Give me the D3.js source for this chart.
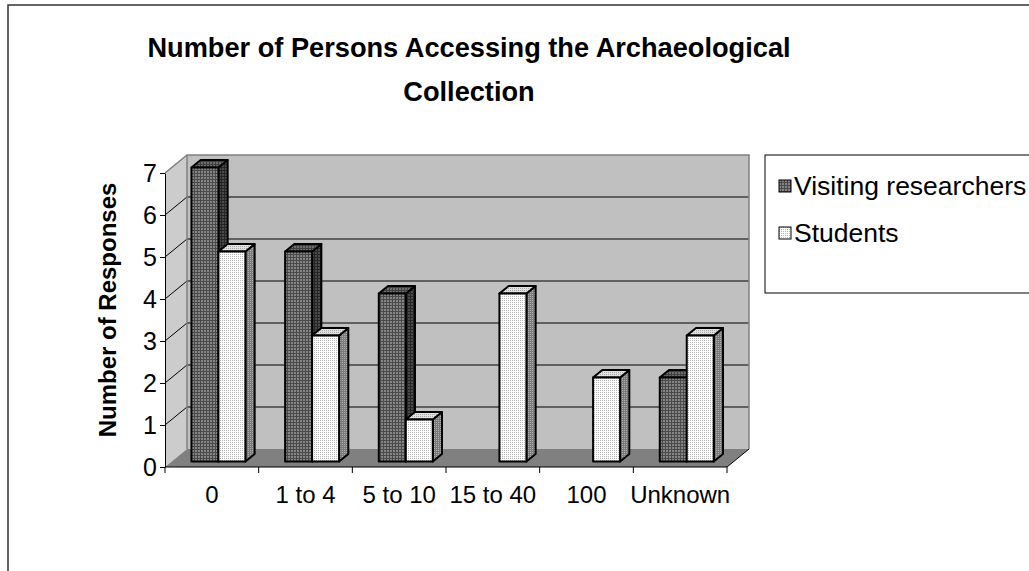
<!DOCTYPE html>
<html>
<head>
<meta charset="utf-8">
<script src="https://cdn.jsdelivr.net/npm/d3@7"></script>
<style>
  body { margin: 0; background: #fff; }
  text { font-family: "Liberation Sans", Arial, sans-serif; }
</style>
</head>
<body>
<div id="chart"></div>
<script>
const categories = ["0", "1 to 4", "5 to 10", "15 to 40", "100", "Unknown"]
const visitingResearchers = [7, 5, 4, 0, 0, 2]
const students = [5, 3, 1, 4, 2, 3]
const seriesNames = ["Visiting researchers", "Students"]
const yTicks = [0, 1, 2, 3, 4, 5, 6, 7]
const titleLines = ["Number of Persons Accessing the Archaeological", "Collection"]

const W = 1029, H = 571
const DX = 22, DY = 18          // depth of the 3d box
const T0 = 0.3, T1 = 0.72       // depth of the bars inside the box

const svg = d3.select("#chart").append("svg")
    .attr("width", W)
    .attr("height", H)

// patterns for the bars
const defs = svg.append("defs")
function pattern(id, base, dot, size, dotSize) {
    const p = defs.append("pattern")
        .attr("id", id)
        .attr("width", size).attr("height", size)
        .attr("patternUnits", "userSpaceOnUse")
    p.append("rect").attr("width", size).attr("height", size).attr("fill", base)
    p.append("rect").attr("width", dotSize).attr("height", dotSize).attr("fill", dot)
}
pattern("darkFront", "#4a4a4a", "#858585", 3, 2)
pattern("darkSide", "#262626", "#4a4a4a", 3, 2)
pattern("darkTop", "#404040", "#6e6e6e", 3, 2)
pattern("lightFront", "#ffffff", "#b8b8b8", 2, 1)
pattern("lightSide", "#7a7a7a", "#b0b0b0", 2, 1)
pattern("lightTop", "#e2e2e2", "#a8a8a8", 2, 1)

const fills = [
    {front: "url(#darkFront)", side: "url(#darkSide)", top: "url(#darkTop)"},
    {front: "url(#lightFront)", side: "url(#lightSide)", top: "url(#lightTop)"}
]

// chart border
svg.append("rect")
    .attr("x", 8).attr("y", 5)
    .attr("width", 1100).attr("height", 700)
    .attr("fill", "none")
    .attr("stroke", "#333")
    .attr("stroke-width", 1.5)

const x = d3.scaleBand()
    .domain(categories)
    .range([165, 727])

const y = d3.scaleLinear()
    .domain([0, 7])
    .range([467, 173])

const proj = (xf, v, t) => [xf + t * DX, y(v) - t * DY]
const poly = pts => pts.map(p => p.join(",")).join(" ")

const x0 = x.range()[0], x1 = x.range()[1]

// left wall
svg.append("polygon")
    .attr("points", poly([proj(x0, 0, 0), proj(x0, 7, 0), proj(x0, 7, 1), proj(x0, 0, 1)]))
    .attr("fill", "#cccccc")
// back wall
svg.append("polygon")
    .attr("points", poly([proj(x0, 0, 1), proj(x0, 7, 1), proj(x1, 7, 1), proj(x1, 0, 1)]))
    .attr("fill", "#c0c0c0")
// floor
svg.append("polygon")
    .attr("points", poly([proj(x0, 0, 0), proj(x0, 0, 1), proj(x1, 0, 1), proj(x1, 0, 0)]))
    .attr("fill", "#808080")

// gridlines
const grid = svg.append("g")
grid.selectAll("polyline")
    .data(yTicks.filter(v => v > 0 && v < 7))
    .join("polyline")
    .attr("points", v => poly([proj(x0, v, 0), proj(x0, v, 1), proj(x1, v, 1)]))
    .attr("fill", "none")
    .attr("stroke", "#000")
    .attr("stroke-width", 1)

// wall edges
svg.append("polyline")
    .attr("points", poly([proj(x0, 7, 0), proj(x0, 7, 1), proj(x1, 7, 1), proj(x1, 0, 1)]))
    .attr("fill", "none")
    .attr("stroke", "#808080")
    .attr("stroke-width", 1.5)
svg.append("line")
    .attr("x1", proj(x0, 7, 1)[0]).attr("y1", proj(x0, 7, 1)[1])
    .attr("x2", proj(x0, 0, 1)[0]).attr("y2", proj(x0, 0, 1)[1])
    .attr("stroke", "#808080")
    .attr("stroke-width", 1.5)

// floor front edge
svg.append("polyline")
    .attr("points", poly([proj(x0, 0, 0), proj(x1, 0, 0), proj(x1, 0, 1)]))
    .attr("fill", "none")
    .attr("stroke", "#000")
    .attr("stroke-width", 1)

// bars
const bw = x.bandwidth() * 0.288
const barData = []
categories.forEach((c, i) => {
    [visitingResearchers[i], students[i]].forEach((v, s) => {
        if (v > 0) barData.push({cat: c, s: s, v: v})
    })
})

const bars = svg.append("g").selectAll("g")
    .data(barData)
    .join("g")
    .attr("stroke", "#000")
    .attr("stroke-width", 2)
    .attr("stroke-linejoin", "round")

const bx = d => x(d.cat) + (x.bandwidth() - 2 * bw) / 2 + d.s * bw

bars.append("polygon")
    .attr("points", d => poly([proj(bx(d) + bw, 0, T0), proj(bx(d) + bw, d.v, T0), proj(bx(d) + bw, d.v, T1), proj(bx(d) + bw, 0, T1)]))
    .attr("fill", d => fills[d.s].side)
bars.append("polygon")
    .attr("points", d => poly([proj(bx(d), d.v, T0), proj(bx(d), d.v, T1), proj(bx(d) + bw, d.v, T1), proj(bx(d) + bw, d.v, T0)]))
    .attr("fill", d => fills[d.s].top)
bars.append("polygon")
    .attr("points", d => poly([proj(bx(d), 0, T0), proj(bx(d), d.v, T0), proj(bx(d) + bw, d.v, T0), proj(bx(d) + bw, 0, T0)]))
    .attr("fill", d => fills[d.s].front)

// y axis
const yAxis = svg.append("g")
    .attr("transform", `translate(${x0},0)`)
    .call(d3.axisLeft(y).tickValues(yTicks).tickFormat(d3.format("d"))
        .tickSize(5).tickPadding(3).tickSizeOuter(0))
yAxis.select(".domain").attr("stroke", "#000")
yAxis.selectAll("text")
    .attr("font-size", 25)
    .attr("fill", "#000")
    .style("font-family", '"Liberation Sans", Arial, sans-serif')

// x axis labels
const xAxis = svg.append("g")
    .attr("transform", `translate(0,${y(0)})`)
    .call(d3.axisBottom(x).tickSize(0).tickPadding(19))
xAxis.select(".domain").remove()
xAxis.selectAll("text")
    .attr("font-size", 24)
    .attr("fill", "#000")
    .style("font-family", '"Liberation Sans", Arial, sans-serif')

// x ticks at category boundaries
svg.append("g").selectAll("line")
    .data(categories.map(c => x(c) + x.bandwidth()).slice(0, -1).concat([x0, x1]))
    .join("line")
    .attr("x1", d => d).attr("x2", d => d)
    .attr("y1", y(0)).attr("y2", y(0) + 6)
    .attr("stroke", "#000")

// title
svg.append("g").selectAll("text")
    .data(titleLines)
    .join("text")
    .attr("x", 469)
    .attr("y", (d, i) => 57 + i * 44)
    .attr("text-anchor", "middle")
    .attr("font-size", 27.2)
    .attr("font-weight", "bold")
    .text(d => d)

// y axis title
svg.append("text")
    .attr("transform", "translate(116,310) rotate(-90)")
    .attr("text-anchor", "middle")
    .attr("font-size", 24)
    .attr("font-weight", "bold")
    .text("Number of Responses")

// legend
const legend = svg.append("g")
legend.append("rect")
    .attr("x", 765).attr("y", 155)
    .attr("width", 400).attr("height", 138)
    .attr("fill", "#fff")
    .attr("stroke", "#000")
    .attr("stroke-width", 1)

const items = legend.selectAll("g.item")
    .data(seriesNames)
    .join("g")
    .attr("class", "item")
    .attr("transform", (d, i) => `translate(779,${186 + i * 47})`)
items.append("rect")
    .attr("x", 0).attr("y", -6)
    .attr("width", 12).attr("height", 12)
    .attr("fill", (d, i) => fills[i].front)
    .attr("stroke", "#000")
    .attr("stroke-width", 1)
items.append("text")
    .attr("x", 15)
    .attr("dy", "0.35em")
    .attr("font-size", 26.5)
    .text(d => d)
</script>
</body>
</html>
